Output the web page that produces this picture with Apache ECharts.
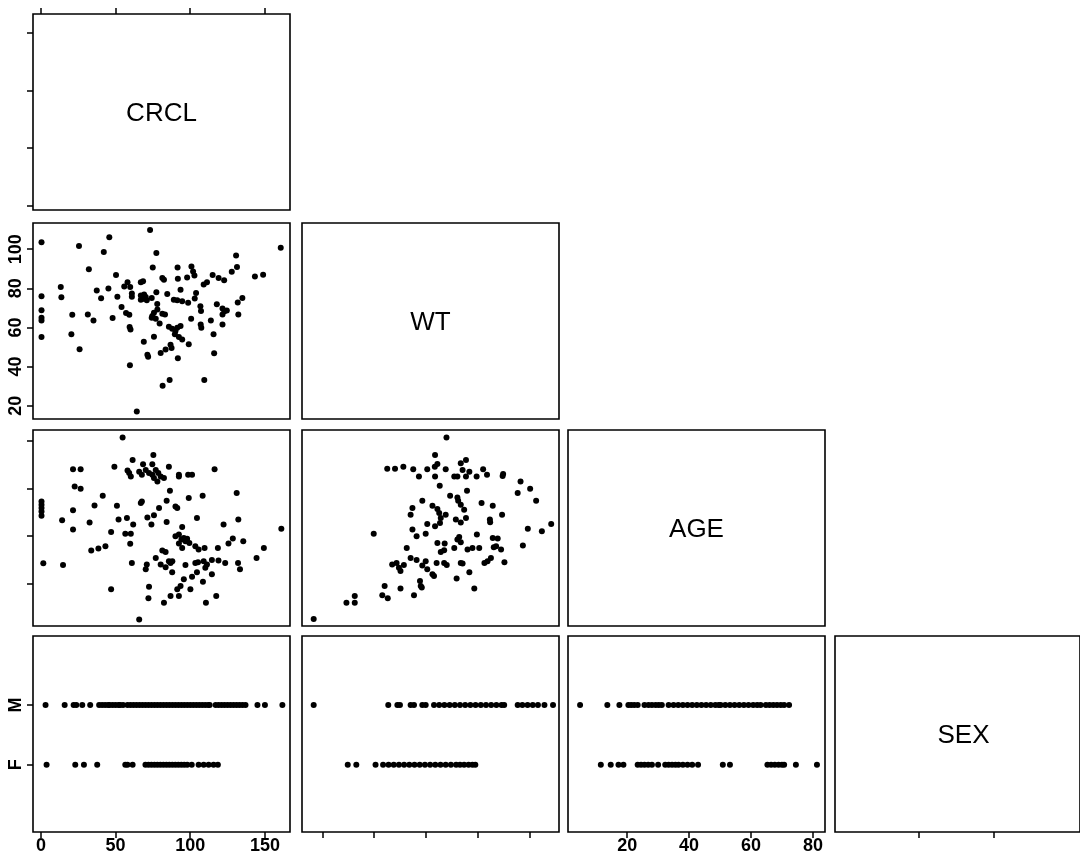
<!DOCTYPE html>
<html>
<head>
<meta charset="utf-8">
<script src="https://cdn.jsdelivr.net/npm/echarts@6/dist/echarts.min.js"></script>
<style>
html,body{margin:0;padding:0;background:#fff;}
#chart{width:1080px;height:858px;}
</style>
</head>
<body>
<div id="chart"></div>
<script>
// ---- Data ----
const varNames = ['CRCL', 'WT', 'AGE', 'SEX'];
const crclTicks = [0, 50, 100, 150];
const wtTicks = [20, 40, 60, 80, 100];
const ageTicks = [20, 40, 60, 80];
const sexTicks = [1, 2];
const sexLabels = ['F', 'M'];

// CRCL (x) vs WT (y)
const crclWt = [[0.4,103.6],[25.5,101.7],[45.8,106.1],[73.1,109.8],[42.1,98.6],[77.3,98],[160.6,100.8],[130.7,96.8],[131.3,90.9],[127.8,88.5],[143.3,86.1],[148.8,87],[32.1,89.8],[50.3,86.8],[74.9,90.7],[91.5,90.7],[100.8,91.2],[101.9,88.6],[102.8,86.6],[97.9,85.6],[91.7,84.9],[81.3,85.3],[82.4,84.4],[115,86.8],[119,85.3],[122.7,84.1],[111.2,83.1],[109,81.9],[68.4,83.6],[66.9,83.1],[58,83.1],[59.8,80.7],[55.8,81],[13.3,80.7],[0.4,75.9],[13.7,75.4],[37.4,78.9],[45.2,79.9],[40.3,74.9],[51.2,75.7],[60.9,77.3],[60.9,75.7],[66.9,76.3],[69.1,76.8],[70.2,75.6],[68,74.6],[70.9,73.9],[74.2,75.1],[66.9,74.2],[77.3,78],[77.9,72],[84.6,77.1],[89,74.2],[91.3,73.9],[94.6,73.4],[98.6,72.6],[93.5,79.3],[103.9,77.6],[103,74.8],[54,70.4],[57,67.4],[59.2,66.5],[59.4,60.2],[60,59],[48,64.8],[35.2,63.6],[31.4,66.6],[21,66.5],[0.4,68.8],[0.4,64.9],[0.4,63.6],[0.4,55.1],[20.4,56.5],[25.9,48.8],[59.6,40.7],[68.9,52.7],[71.3,46],[71.8,45],[75.7,55.3],[74.6,65.8],[75.7,67.5],[78,69.2],[74.2,64.9],[76.9,64.4],[81.3,67],[83.1,66.6],[79.5,62],[85.7,60.4],[87.9,59.3],[91.3,59.8],[90.1,58.2],[93.5,60.7],[89.7,56.5],[92.4,55.1],[94.6,53.9],[99,51.4],[86.8,51.2],[87.5,49.5],[83.5,48.7],[80.2,47],[91.7,44.3],[81.5,30.2],[86.2,33.2],[109.4,33.2],[64.2,17],[100.6,64.5],[106.8,70.9],[107.2,68.4],[107,61.5],[107.4,59.8],[113.8,63.6],[115.6,56.5],[116,46.8],[117.8,71.8],[121.6,69.7],[122.9,68.3],[124.5,68.7],[121.6,66.6],[121.6,61.5],[132.2,66.6],[131.8,72.7],[134.9,75]];

// CRCL (x) vs AGE (y)
const crclAge = [[54.7,81.3],[75.3,74],[61.4,71.9],[68.4,70.1],[74.6,70.1],[49.2,69.1],[21.5,68],[26.6,68],[116.3,68],[85.7,69.1],[58,67.5],[59.1,66.4],[60.2,65],[65.8,67],[67.6,65.7],[70.2,67.7],[72.4,66.4],[74.6,65.7],[75.7,64.3],[76.9,67.7],[78.6,66.4],[80.2,65],[82.4,64.3],[78,62.9],[92.4,65.7],[92.4,65],[98.6,65.7],[101.2,65.7],[22.6,60.8],[26.6,59.8],[86.4,59],[131.1,58],[41.4,56.9],[99,55.9],[108.3,56.9],[67.6,54.5],[66.9,53.8],[84.2,54.8],[90.1,52.4],[91.3,51.7],[0.4,54.5],[0.4,53.1],[0.4,51.7],[0.4,50.3],[0.4,48.5],[35.9,52.8],[50.9,52.7],[21.5,50.8],[79.1,51.7],[14.2,46.6],[32.6,45.7],[52,46.9],[57.6,47.5],[71.3,47.8],[75.7,48.7],[104.5,47.5],[132.2,46.9],[61.8,44.8],[74,44.8],[84.2,45.9],[122.3,44.8],[21.5,42.7],[47,41.7],[94.6,43.8],[161,43],[56.5,40.9],[60.2,40.9],[90.1,39.9],[92.4,40.6],[94.1,38.5],[95.7,39.2],[96.8,37.8],[97.9,38.8],[99.4,37.1],[94.6,35],[92.4,36.8],[59.8,36.7],[33.7,33.9],[38.5,34.7],[43.2,35.7],[103.4,35.7],[105.6,34.3],[109.6,35],[118.5,35],[125.6,36.8],[128.5,38.9],[135.5,37.8],[149.3,34.9],[81.3,33.9],[83.5,33.3],[76.9,30.8],[80.2,28],[83.5,26.9],[85.7,29.4],[88,29.4],[86.8,28.7],[60.9,28.7],[70.9,28],[70.2,26],[87.9,24.8],[96.8,27.8],[103.4,28.7],[105.2,29],[109,29.4],[111.2,28],[110.1,26.7],[114.5,29.9],[118.9,29.7],[123.4,28.7],[132,28.7],[133.3,26],[144.4,30.8],[1.6,28.5],[14.8,27.8],[114.5,23.9],[104.5,24.8],[101.2,22.9],[95.7,21.8],[93.5,19],[91.3,17.6],[100.1,17.6],[108.5,20.8],[72.4,18.7],[47,17.6],[72,13.8],[82.4,12],[86.8,14.8],[92.4,14.8],[110.5,12],[117.4,14.8],[65.8,4.9]];

// WT (x) vs AGE (y)
const wtAge = [[16.7,5.1],[29.3,12],[32.5,12],[32.5,14.8],[43.1,15.1],[45.2,13.8],[44,19],[50.1,17.9],[55.3,15.1],[57.9,19],[58.3,18.4],[57.6,21.1],[39.8,40.9],[46.9,28],[48.6,28.7],[49.5,26.7],[50.1,25.3],[51.4,27.8],[52.5,35],[54,30.8],[56.3,29.9],[58.5,27.6],[59.8,29.4],[60.4,26],[62.4,23.9],[63,23.2],[64.3,37.1],[67.1,36.8],[65.6,33.3],[66.9,34],[64,28.7],[66.9,28.7],[67.9,27.8],[70.8,35],[72,38.5],[73.3,37.4],[72.7,39.6],[73.3,28.7],[74,28.4],[71.7,22.1],[76.6,24.8],[78.5,17.9],[75.9,34.3],[77.8,35],[79.5,40.6],[80.4,35],[82.4,28.7],[83.6,29.4],[84.9,30.8],[85.6,39.2],[87.5,38.9],[86,35.3],[86.9,35.7],[88.8,34.3],[90.1,29],[97.2,36],[99.1,43],[104.5,42],[108.1,45],[54.7,42.7],[56.3,39.9],[59.8,40.9],[60.4,45],[63.4,44.1],[65.3,45.5],[65.6,47.5],[67.5,48.9],[54,48.9],[58.5,54.8],[54.7,51.7],[62.4,52.7],[64.3,51.3],[65,49.6],[69.2,56.9],[72,56.2],[72.3,54.8],[73.3,53.1],[74.6,51],[71.4,46.9],[73.3,45.7],[75.3,47.5],[81.3,53.8],[84.5,46.9],[84.6,45.8],[85.6,52.7],[89.2,48.9],[75.7,59],[65.2,61.1],[95.2,58],[96.3,62.9],[100,59.8],[102.3,54.8],[45,68.2],[48,68.2],[51.2,69.1],[55,68],[57.2,65],[60.4,68],[63.3,69.1],[64.3,70.2],[67.5,68],[63.4,74],[67.8,81.3],[63.4,65],[70.8,65],[72,65],[75.3,65],[73.3,70.5],[75.3,71.9],[74,67.7],[76.6,67],[79.4,65],[81.9,68],[83.4,65.7],[89.4,65.2],[89.6,66]];

// SEX strips: values of each variable for males and females
const crclM = [3.1,15.9,21.9,23.7,27.7,33,39,41,43,45,46,48,50,52,53,55,58,60,62,64,66,68,70,72,74,76,78,80,82,84,86,88,90,92,94,96,98,100,102,104,106,108,110,112,113,117,119,121,123,125,127,129,131,133,135,137,145,150,161.7];
const crclF = [3.8,23,28.8,37.7,56.5,58,61.4,70,72,74,76,78,80,82,84,86,88,90,92,94,96,98,101,105.6,109,112.3,115.6,118.5];
const wtM = [16.7,45.4,48.9,49.9,54,55.3,58.5,59.8,63,65,67,69,71,73,75,77,79,81,83,85,87,89,90,95.2,97,99,101,103,105.5,108.8];
const wtF = [29.8,33.1,40.5,43.4,45.5,47.5,49.5,51.5,53.5,55.5,57.5,59.5,61.5,63.5,65.5,67.5,69.5,71.5,73,74.6,76.3,77.8,78.9];
const ageM = [4.8,13.6,17.5,20.4,21.3,22.3,23.4,25.6,26.9,28,29.2,30.2,31.2,33.4,35,36.5,38,39.5,41,42.5,44,45.5,47,48.5,49.6,50.2,51.7,53.2,54.7,56.2,57.7,59.2,60.7,62,63.1,64.8,66,67.2,68.4,69.6,70.7,72.3];
const ageF = [11.5,14.7,17.2,18.8,23.4,24.5,25.6,26.8,28,30,32.3,33.4,34.5,35.6,36.6,38,39.5,41,42.9,50.9,53.2,65.3,66.5,67.7,68.9,70,70.7,74.5,81.3];

// ---- Layout / scales ----
const LEFTS = [33, 302, 568, 835];
const TOPS = [14, 223, 430, 636];
const PW = 257, PH = 196;
const xRange = [[-5.3, 166.8], [12.2, 111.1], [0.9, 83.9], [-0.11, 3.14]];
const yRange = [[-3.7, 166.1], [13.2, 113.4], [2.2, 84.5], [-0.12, 3.15]];
const tickSets = [crclTicks, wtTicks, ageTicks, sexTicks];

const FONT = 'Liberation Sans, Arial, Helvetica, sans-serif';
const tickStyle = {color: '#000', width: 1.5};
const labelBase = {color: '#000', fontFamily: FONT, fontWeight: 'bold', fontSize: 18};

function sexFmt(v) { return v === 1 ? sexLabels[0] : (v === 2 ? sexLabels[1] : ''); }

const grids = [], xAxes = [], yAxes = [], series = [], graphics = [];
const panelData = {
  '1,0': crclWt, '2,0': crclAge, '2,1': wtAge,
  '3,0': [crclM.map(v => [v, 2]), crclF.map(v => [v, 1])],
  '3,1': [wtM.map(v => [v, 2]), wtF.map(v => [v, 1])],
  '3,2': [ageM.map(v => [v, 2]), ageF.map(v => [v, 1])]
};

let gi = 0;
for (let r = 0; r < 4; r++) {
  for (let c = 0; c <= r; c++) {
    grids.push({left: LEFTS[c], top: TOPS[r], width: PW, height: PH, show: true,
      borderColor: '#000', borderWidth: 1.6, backgroundColor: '#fff', containLabel: false});
    const xTop = (r === 0 && c === 0);
    const xBottom = (r === 3);
    const xShowTicks = xTop || xBottom;
    const xShowLabels = xBottom && (c === 0 || c === 2);
    xAxes.push({
      gridIndex: gi, type: 'value', min: xRange[c][0], max: xRange[c][1],
      position: xTop ? 'top' : 'bottom',
      axisLine: {show: false, onZero: false}, splitLine: {show: false},
      axisTick: {show: xShowTicks, length: 6, lineStyle: tickStyle, customValues: tickSets[c]},
      axisLabel: Object.assign({show: xShowLabels, margin: 5, customValues: tickSets[c],
        formatter: c === 3 ? sexFmt : (v => String(v))}, labelBase)
    });
    const yShowTicks = (c === 0);
    const yShowLabels = (c === 0) && (r === 1 || r === 3);
    yAxes.push({
      gridIndex: gi, type: 'value', min: yRange[r][0], max: yRange[r][1],
      position: 'left',
      axisLine: {show: false, onZero: false}, splitLine: {show: false},
      axisTick: {show: yShowTicks, length: 6, lineStyle: tickStyle, customValues: tickSets[r]},
      axisLabel: Object.assign({show: yShowLabels, margin: 8, rotate: 90, customValues: tickSets[r],
        formatter: r === 3 ? sexFmt : (v => String(v))}, labelBase)
    });
    if (r === c) {
      graphics.push({type: 'text', x: LEFTS[c] + PW / 2, y: TOPS[r] + PH / 2 + 2, z: 100,
        style: {text: varNames[r], fill: '#000', font: '26px ' + FONT, textAlign: 'center', textVerticalAlign: 'middle'}});
    } else {
      const d = panelData[r + ',' + c];
      const sets = (r === 3) ? d : [d];
      sets.forEach(s => series.push({type: 'scatter', xAxisIndex: gi, yAxisIndex: gi, data: s,
        symbol: 'circle', symbolSize: 6, itemStyle: {color: '#000', opacity: 1}, silent: true, animation: false}));
    }
    gi++;
  }
}

const chart = echarts.init(document.getElementById('chart'), null, {renderer: 'canvas'});
chart.setOption({
  backgroundColor: '#fff',
  animation: false,
  grid: grids, xAxis: xAxes, yAxis: yAxes, series: series,
  graphic: graphics
});
</script>
</body>
</html>
